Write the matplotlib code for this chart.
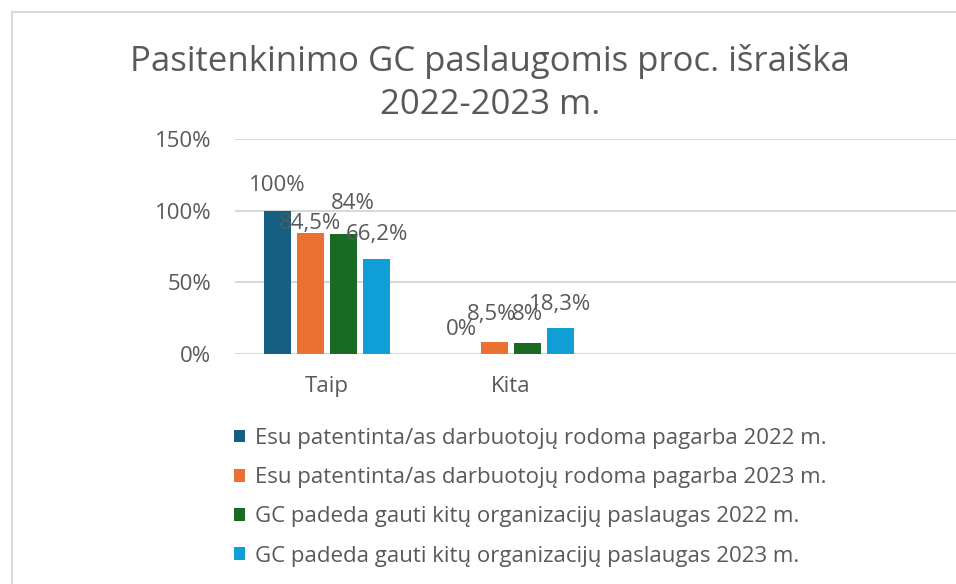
import matplotlib
matplotlib.use("Agg")
import matplotlib.pyplot as plt
from matplotlib.patches import Patch
from matplotlib.lines import Line2D
import numpy as np

plt.rcParams['font.family'] = ['Open Sans', 'DejaVu Sans']

# ---- data ----
categories = ["Taip", "Kita", "", ""]
series_names = [
    "Esu patentinta/as darbuotojų rodoma pagarba 2022 m.",
    "Esu patentinta/as darbuotojų rodoma pagarba 2023 m.",
    "GC padeda gauti kitų organizacijų paslaugas 2022 m.",
    "GC padeda gauti kitų organizacijų paslaugas 2023 m.",
]
s1 = [100.0, 0.0]
s2 = [84.5, 8.5]
s3 = [84.0, 8.0]
s4 = [66.2, 18.3]
labels1 = ["100%", "0%"]
labels2 = ["84,5%", "8,5%"]
labels3 = ["84%", "8%"]
labels4 = ["66,2%", "18,3%"]
yticks = [0, 50, 100, 150]
ytick_labels = ["0%", "50%", "100%", "150%"]

colors = ["#156082", "#E97132", "#196B24", "#0F9ED5"]
text_color = "#595959"
grid_color = "#D9D9D9"

W, H = 956, 584
fig = plt.figure(figsize=(W / 100, H / 100), dpi=100)

# chart border (cropped on right/bottom)
fig.add_artist(Line2D([12 / W, 12 / W], [0, 1 - 12 / H], transform=fig.transFigure,
                      color="#D9D9D9", lw=1.5))
fig.add_artist(Line2D([12 / W, 1], [1 - 12 / H, 1 - 12 / H], transform=fig.transFigure,
                      color="#D9D9D9", lw=1.5))

# axes: left 235px, bottom at y=354px, top at y=139px, 4 categories x 184px
ax_left, ax_bottom_px, ax_top_px = 235, 354, 139
ax_w = 184 * len(categories)
ax = fig.add_axes([ax_left / W, 1 - ax_bottom_px / H, ax_w / W, (ax_bottom_px - ax_top_px) / H])
ax.set_xlim(-0.5, len(categories) - 0.5)
ax.set_ylim(0, 150)

x = np.arange(2)
step = 33 / 184
bw = 27 / 184
all_series = [s1, s2, s3, s4]
all_labels = [labels1, labels2, labels3, labels4]
# label offsets (points) above bar top, with manual tweaks as in original
label_offsets = {
    (0, 0): (0, 18), (1, 0): (0, 7), (2, 0): (7, 22), (3, 0): (0, 17.5),
    (0, 1): (0, 17.5), (1, 1): (-2, 20), (2, 1): (0, 20), (3, 1): (0, 17),
}
for i, (vals, labs) in enumerate(zip(all_series, all_labels)):
    xpos = x + (i - 1.5) * step
    ax.bar(xpos, vals, width=bw, color=colors[i], zorder=3)
    for j, (xp, v, lab) in enumerate(zip(xpos, vals, labs)):
        dx, dy = label_offsets[(i, j)]
        ax.annotate(lab, (xp, v), xytext=(dx, dy), textcoords="offset points",
                    ha="center", va="center", fontsize=16, color=text_color, zorder=4)

ax.set_yticks(yticks)
ax.set_yticklabels(ytick_labels)
ax.set_xticks(np.arange(len(categories)))
ax.set_xticklabels(categories)
ax.tick_params(axis="both", length=0, labelsize=16, colors=text_color)
ax.tick_params(axis="y", pad=17)
ax.tick_params(axis="x", pad=16)
ax.yaxis.grid(True, color=grid_color, lw=1.5, zorder=0)
for sp in ax.spines.values():
    sp.set_visible(False)
ax.set_axisbelow(True)

# title
fig.text(490 / W, 1 - 83 / H, "Pasitenkinimo GC paslaugomis proc. išraiška\n2022-2023 m.",
         ha="center", va="center", fontsize=25, color=text_color, linespacing=1.32)

# legend
handles = [Patch(facecolor=c, edgecolor="none") for c in colors]
fig.legend(handles, series_names, loc="upper left",
           bbox_to_anchor=(234 / W, 1 - 428 / H), frameon=False,
           fontsize=16, labelcolor=text_color, handlelength=0.5, handleheight=0.5,
           handletextpad=0.45, labelspacing=0.82, borderaxespad=0, borderpad=0)

fig.savefig("out.png", dpi=100)
